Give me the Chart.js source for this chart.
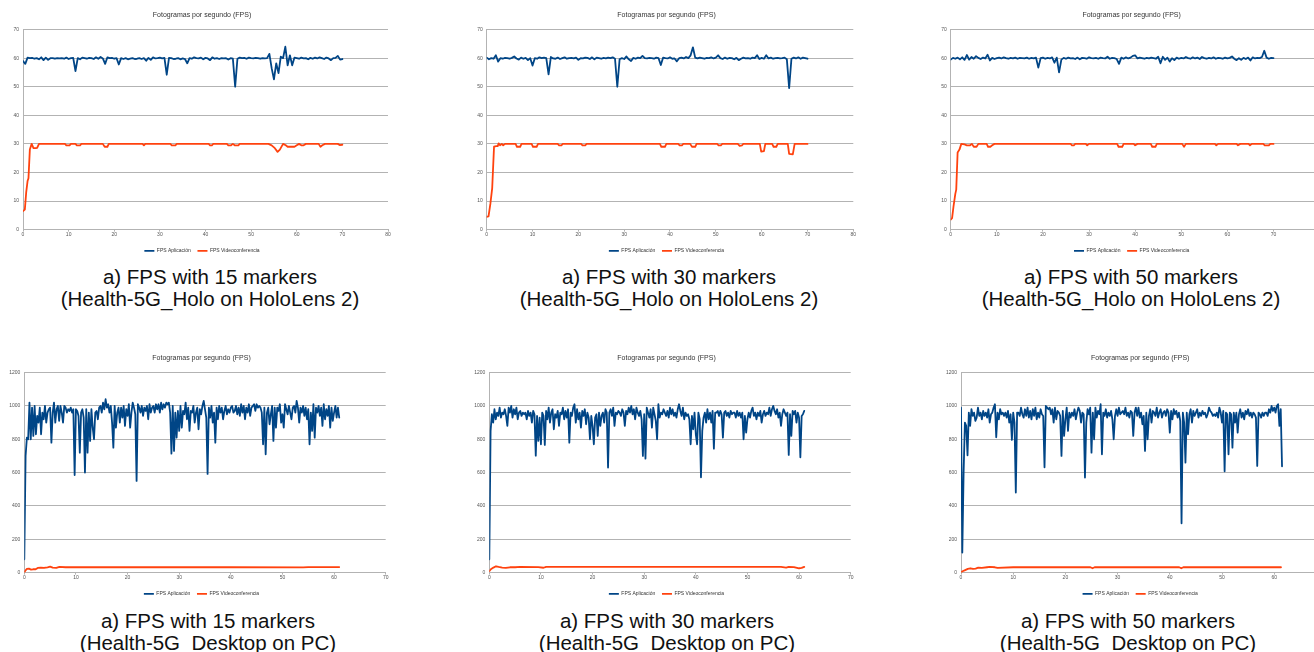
<!DOCTYPE html>
<html>
<head>
<meta charset="utf-8">
<script src="https://cdn.jsdelivr.net/npm/chart.js@4.4.1/dist/chart.umd.min.js"></script>
<style>
  html, body { margin: 0; padding: 0; background: #ffffff; }
  body { position: relative; width: 1314px; height: 652px; overflow: hidden; font-family: "Liberation Sans", Arial, sans-serif; }
  .panel { position: absolute; }
  .panel canvas { display: block; }
  .caption { position: absolute; width: 420px; text-align: center; font-size: 20.5px; line-height: 22px; color: #111111; white-space: nowrap; }
</style>
</head>
<body>
<div class="panel" id="holo15-panel"><canvas id="holo15-chart"></canvas></div>
<div class="panel" id="holo30-panel"><canvas id="holo30-chart"></canvas></div>
<div class="panel" id="holo50-panel"><canvas id="holo50-chart"></canvas></div>
<div class="panel" id="desk15-panel"><canvas id="desk15-chart"></canvas></div>
<div class="panel" id="desk30-panel"><canvas id="desk30-chart"></canvas></div>
<div class="panel" id="desk50-panel"><canvas id="desk50-chart"></canvas></div>

<div class="caption" style="left:0px;top:266px">a) FPS with 15 markers<br>(Health-5G_Holo on HoloLens 2)</div>
<div class="caption" style="left:459px;top:266px">a) FPS with 30 markers<br>(Health-5G_Holo on HoloLens 2)</div>
<div class="caption" style="left:921px;top:266px">a) FPS with 50 markers<br>(Health-5G_Holo on HoloLens 2)</div>
<div class="caption" style="left:-2px;top:610px">a) FPS with 15 markers<br>(Health-5G_Desktop on PC)</div>
<div class="caption" style="left:457px;top:610px">a) FPS with 30 markers<br>(Health-5G_Desktop on PC)</div>
<div class="caption" style="left:918px;top:610px">a) FPS with 50 markers<br>(Health-5G_Desktop on PC)</div>

<script>
const chartTitle = "Fotogramas por segundo (FPS)";
const seriesNames = ["FPS Aplicación", "FPS Videoconferencia"];

// HoloLens runs: x 0..80 s, y 0..70 fps; app samples every 0.5 s
const holoXMax = 80;
const holoYMax = 70;
const holoYStep = 10;
const holoSampleStep = 0.5;

// Desktop runs: x 0..70 s, y 0..1200 fps; app samples every 0.25 s
const deskXMax = 70;
const deskYMax = 1200;
const deskYStep = 200;
const deskSampleStep = 0.25;

const holo15App = [
  59, 58, 60.2, 60, 60.1, 59.8, 60, 59.6, 60.3, 59.3,
  60.2, 59.4, 60, 60, 59.8, 60, 59.9, 60, 59.8, 60.2,
  59.7, 60, 60.1, 55.5, 60, 59.6, 60.2, 60, 59.8, 60.1,
  60, 59.7, 60.3, 59.8, 60.4, 59.9, 58, 60.3, 60, 60.1,
  59.8, 60, 57.8, 60, 59.7, 60, 59.6, 59.8, 60, 59.7,
  59.8, 60, 59.7, 60, 59.1, 60.1, 59.4, 60.3, 59.9, 60,
  60.2, 59.9, 60.1, 54.2, 60.1, 60, 59.7, 59.8, 60, 59.6,
  59.9, 59.7, 58.2, 60, 59.8, 60.3, 60, 59.9, 60.2, 59.6,
  60.1, 59.9, 59.3, 60.3, 59.8, 60, 59.7, 60, 59.9, 60,
  59.5, 60, 59.8, 50, 59.8, 60.2, 60, 60.1, 59.8, 60.2,
  60, 59.9, 60.1, 60, 59.8, 60, 59.9, 60, 61.5, 56.5,
  52.6, 58.2, 54.8, 60.5, 60, 64, 57.5, 61, 57.5, 60.2,
  60, 59.8, 60.2, 59.9, 60, 59.6, 60.1, 59.8, 60.2, 59.9,
  60.3, 60, 59.7, 60.2, 59.9, 59.3, 60, 60.1, 60.8, 59.5,
  59.7
];

const holo15Video = [
  [0, 6.5], [0.4, 7], [0.7, 13], [1.0, 17], [1.2, 18], [1.5, 28], [1.9, 30], [2.3, 28.5], [2.8, 28.5],
  [3.1, 28.6], [3.5, 30], [9.2, 30], [9.5, 29.5], [10.2, 29.5], [10.5, 30], [11.5, 30], [11.8, 29.5],
  [12.5, 29.5], [12.8, 30], [17.5, 30], [17.9, 29], [18.5, 29], [18.8, 30], [26.2, 30], [26.5, 29.5],
  [26.8, 30], [32.3, 30], [32.6, 29.5], [33.4, 29.5], [33.7, 30], [40.7, 30], [41, 29.5], [41.4, 29.5],
  [41.7, 30], [44.7, 30], [45, 29.5], [45.6, 29.5], [46, 30], [46.4, 29.5], [47.2, 29.5], [47.5, 30],
  [53.8, 30], [54.5, 29.5], [55.2, 28.5], [55.8, 27.2], [56.3, 28], [57, 30], [57.6, 29.5], [58, 29],
  [59.5, 29], [60, 29.5], [60.5, 30], [61, 29.5], [61.5, 29.5], [62, 30], [64.8, 30], [65.2, 29],
  [65.6, 29.5], [66.2, 30], [69, 30], [69.4, 29.6], [70, 29.7]
];

const holo30App = [
  60.2, 59.6, 60, 59.8, 61, 58.8, 60, 59.8, 60.1, 60,
  59.8, 60.1, 60.6, 59.9, 59.5, 60.2, 59.8, 60.1, 59.3, 60,
  57.4, 60, 59.8, 60.3, 60, 60.2, 60, 54.3, 60.4, 59.9,
  59.8, 60.2, 59.7, 60, 60.3, 59.8, 60, 60.1, 59.9, 60.2,
  59.4, 60, 59.9, 60.2, 60.1, 59.7, 60.3, 59.6, 60.2, 60,
  59.8, 60.1, 59.9, 60.2, 60, 60.3, 59.8, 50, 59.6, 60,
  59.7, 60.6, 59.6, 59, 60.1, 59.8, 60.2, 60, 60.8, 60,
  59.9, 60.1, 60, 59.8, 60.2, 60, 57.6, 60.2, 60, 59.9,
  60.3, 59.8, 59.9, 58.9, 60, 60.2, 59.9, 60.4, 60, 61,
  63.8, 60.2, 59.9, 60.2, 60, 59.8, 60.1, 60, 60.3, 59.9,
  60.2, 61, 60, 59.7, 60.2, 59.8, 60.1, 60, 59.6, 60.1,
  59.3, 59.8, 60.2, 59.9, 60, 59.8, 60.2, 60, 61, 59.7,
  60.1, 59.8, 61, 59.9, 60.2, 59.8, 60, 60.1, 59.9, 60,
  60.2, 59.6, 49.5, 59.8, 60.2, 59.9, 60.3, 59.8, 60.2, 60,
  59.8
];

const holo30Video = [
  [0, 4.5], [0.4, 4.6], [0.8, 9], [1.2, 14.5], [1.6, 29], [2.1, 29.2], [2.4, 29.2], [2.6, 30.2],
  [2.9, 29.5], [3.3, 30], [3.6, 29.5], [4, 30], [6.3, 30], [6.6, 29], [7.3, 29], [7.6, 30], [9.8, 30],
  [10.1, 29], [10.9, 29], [11.2, 30], [15.5, 30], [15.8, 29.5], [16.3, 29.5], [16.6, 30], [20.6, 30],
  [20.9, 29.5], [21.5, 29.5], [21.8, 30], [37.8, 30], [38.1, 29], [38.9, 29], [39.2, 30], [41.8, 30],
  [42.1, 29.5], [42.6, 29.5], [42.9, 30], [44.4, 30], [44.8, 29], [45.5, 29], [45.8, 30], [50.3, 30],
  [50.6, 29.5], [51.1, 29.5], [51.4, 30], [54.8, 30], [55.2, 29.3], [55.7, 29.5], [56, 30], [59.6, 30],
  [59.9, 27.3], [60.5, 27.5], [60.8, 30], [62.3, 30], [62.6, 29], [63.2, 29], [63.5, 30], [65.7, 30],
  [66, 26.5], [66.8, 26.3], [67.2, 30], [70, 30]
];

const holo50App = [
  59.5, 60.1, 59.8, 60.2, 59.6, 60.3, 59.4, 61.1, 59.5, 60.4,
  59.8, 60.7, 60.1, 59.7, 60.2, 59.9, 61.2, 59.2, 60.1, 59.7,
  60, 60.2, 59.9, 60.3, 60, 59.8, 60.1, 59.9, 60.2, 59.8,
  60.1, 60, 59.9, 60.2, 59.8, 60.1, 59.9, 60.2, 56.7, 60,
  60.2, 59.8, 60.1, 59.9, 60.3, 58.4, 60.2, 55, 59.5, 60.1,
  59.8, 60.2, 59.9, 60, 59.7, 60.2, 59.6, 60.1, 60, 59.8,
  60.3, 60, 59.9, 60.1, 59.8, 60.2, 60, 59.9, 60.5, 59.8,
  60.1, 60, 59.7, 58, 60.2, 59.8, 60.3, 59.9, 60.2, 60.8,
  61, 59.9, 60.2, 60, 59.8, 60.1, 59.9, 60.2, 60, 59.8,
  60.5, 58.2, 60.5, 59.4, 60.2, 58.8, 60, 59.3, 60.2, 59.8,
  60.1, 59.9, 60.4, 60, 59.8, 60.3, 59.9, 60.2, 59.7, 60.4,
  60, 59.8, 60.1, 59.9, 60.3, 59.8, 60.1, 60, 59.8, 60.2,
  59.9, 60.1, 60.6, 59.8, 59.3, 60, 59.4, 60.1, 59.7, 60.2,
  59.2, 60.3, 59.9, 60.1, 60, 60.4, 62.6, 60.2, 59.8, 60.1,
  60
];

const holo50Video = [
  [0, 3.5], [0.3, 4], [0.6, 8], [1, 12.5], [1.2, 14], [1.5, 27], [1.9, 28], [2.3, 30], [3, 29.8],
  [3.5, 29.5], [4.2, 29.5], [4.6, 30], [5, 29], [5.6, 29], [6, 30], [7.8, 30], [8.1, 29], [8.6, 29],
  [9, 29.5], [9.5, 30], [26, 30], [26.3, 29.5], [26.7, 29.5], [27, 30], [29.3, 30], [29.6, 29.5],
  [30, 30], [36.1, 30], [36.4, 29], [37.2, 29], [37.5, 30], [39.7, 30], [40, 29.5], [40.5, 30],
  [43.4, 30], [43.7, 29], [44.4, 29], [44.7, 30], [50.2, 30], [50.6, 29], [51, 30], [57.3, 30],
  [57.6, 29.5], [58, 30], [62, 30], [62.3, 29.5], [62.8, 30], [64.6, 30], [64.9, 29.5], [65.3, 30],
  [67.8, 30], [68.1, 29.5], [69, 29.5], [69.3, 30], [70, 30]
];

const desk15App = [
  80, 700, 810, 800, 1020, 800, 990, 820, 1000, 830, 940, 900, 990, 830, 960, 920,
  1000, 900, 960, 980, 990, 780, 960, 1020, 900, 980, 1000, 910, 1000, 960, 900, 1000,
  990, 960, 980, 970, 990, 960, 980, 585, 980, 970, 940, 720, 960, 980, 930, 600,
  980, 720, 960, 790, 980, 870, 800, 960, 970, 920, 990, 1000, 960, 1020, 980, 1040,
  990, 1010, 960, 1000, 900, 750, 1000, 870, 960, 990, 900, 990, 930, 1000, 880, 980,
  940, 1010, 870, 960, 1020, 990, 950, 550, 1010, 990, 960, 1000, 940, 990, 970, 1000,
  920, 1010, 960, 990, 1000, 960, 1010, 980, 1010, 960, 1020, 980, 1010, 990, 1020, 1010,
  1020, 960, 714, 1000, 730, 960, 810, 970, 850, 1000, 870, 970, 950, 1020, 920, 990,
  850, 970, 960, 1000, 900, 960, 990, 860, 980, 950, 1000, 1030, 980, 930, 592, 990,
  930, 1000, 900, 960, 780, 990, 920, 1000, 960, 990, 920, 970, 1000, 950, 980, 960,
  990, 1000, 960, 970, 1000, 950, 990, 940, 1010, 960, 1000, 920, 990, 960, 1010, 940,
  990, 1000, 1010, 970, 1010, 990, 1000, 990, 960, 770, 990, 710, 960, 990, 890, 950,
  1000, 790, 990, 870, 990, 970, 1010, 900, 950, 870, 1010, 980, 950, 1000, 960, 920,
  990, 1000, 960, 1030, 990, 900, 990, 960, 1000, 940, 990, 920, 980, 770, 960, 850,
  1010, 810, 990, 960, 1000, 940, 990, 880, 1010, 920, 980, 940, 1000, 870, 990, 910,
  960, 1000, 930, 990, 930
];

const desk15Video = [
  [0, 0], [0.2, 12], [0.5, 22], [0.9, 24], [1.3, 18], [1.7, 20], [2.2, 20], [2.6, 28], [3.2, 30],
  [3.8, 28], [4.5, 32], [5.0, 36], [5.5, 30], [6.2, 28], [6.8, 34], [8, 32], [20, 32], [40, 32],
  [54, 31], [55, 33], [61, 33]
];

const desk30App = [
  80, 850, 950, 900, 980, 920, 960, 940, 990, 930, 960, 950, 980, 940, 880, 990,
  960, 1000, 930, 980, 950, 990, 920, 960, 970, 940, 960, 950, 960, 920, 970, 940,
  960, 900, 970, 950, 702, 940, 790, 930, 770, 960, 940, 766, 970, 920, 990, 900,
  960, 980, 860, 950, 930, 970, 880, 960, 950, 990, 920, 970, 930, 980, 780, 960,
  940, 990, 1010, 900, 980, 920, 960, 870, 970, 940, 980, 890, 960, 930, 800, 940,
  880, 770, 930, 950, 820, 960, 880, 940, 960, 900, 980, 960, 630, 960, 980, 940,
  990, 880, 960, 950, 970, 960, 940, 980, 960, 880, 970, 950, 990, 960, 1000, 950,
  980, 920, 990, 960, 940, 970, 920, 700, 950, 684, 990, 960, 930, 980, 870, 990,
  950, 910, 800, 1010, 930, 960, 950, 980, 960, 940, 970, 930, 990, 950, 980, 940,
  960, 930, 980, 1010, 970, 940, 990, 920, 960, 940, 950, 920, 770, 940, 860, 960,
  830, 770, 960, 920, 572, 850, 930, 960, 900, 980, 920, 960, 900, 970, 744, 960,
  960, 970, 940, 970, 950, 810, 960, 970, 940, 960, 930, 970, 950, 960, 960, 930,
  970, 940, 960, 930, 960, 800, 940, 840, 920, 960, 930, 970, 990, 940, 960, 920,
  960, 940, 970, 900, 950, 970, 940, 960, 950, 990, 940, 980, 1000, 970, 950, 980,
  930, 960, 880, 950, 980, 960, 940, 960, 706, 950, 820, 970, 950, 970, 900, 960,
  930, 692, 940, 950, 970
];

const desk30Video = [
  [0, 8], [0.3, 20], [0.8, 30], [1.3, 38], [1.8, 34], [2.5, 30], [3.2, 28], [4, 32], [5, 32],
  [6, 34], [9.5, 33], [10.5, 29], [11, 34], [20, 34], [40, 34], [56.5, 34], [57.5, 30], [58, 34],
  [59, 33], [60, 26], [60.5, 28], [61, 34]
];

const desk50App = [
  990, 120, 600, 900, 880, 704, 960, 880, 980, 940, 960, 910, 930, 990, 940, 960,
  920, 970, 940, 960, 930, 980, 900, 950, 960, 990, 1010, 812, 960, 920, 980, 950,
  960, 940, 960, 930, 970, 900, 950, 796, 960, 900, 480, 960, 960, 940, 990, 950,
  930, 980, 940, 990, 930, 970, 920, 980, 940, 990, 920, 960, 930, 980, 950, 940,
  632, 1000, 990, 980, 990, 950, 980, 900, 990, 920, 970, 960, 940, 700, 970, 820,
  920, 990, 850, 960, 930, 960, 940, 980, 920, 960, 990, 970, 900, 960, 950, 570,
  900, 980, 950, 990, 720, 960, 800, 990, 930, 970, 950, 1010, 710, 960, 940, 980,
  930, 960, 940, 970, 920, 800, 940, 980, 940, 990, 950, 960, 970, 950, 990, 940,
  960, 930, 970, 960, 820, 960, 990, 940, 990, 930, 960, 890, 940, 730, 960, 800,
  940, 980, 900, 970, 960, 940, 990, 930, 960, 980, 930, 960, 970, 940, 980, 960,
  840, 970, 920, 980, 950, 970, 930, 960, 910, 296, 960, 900, 660, 960, 830, 950,
  980, 900, 970, 940, 960, 980, 930, 960, 940, 970, 950, 960, 930, 950, 990, 970,
  960, 940, 950, 940, 960, 930, 990, 960, 900, 970, 608, 960, 950, 710, 960, 950,
  750, 960, 900, 960, 840, 950, 980, 930, 960, 920, 970, 950, 980, 940, 960, 930,
  960, 950, 930, 640, 960, 950, 930, 960, 940, 960, 960, 940, 980, 960, 1000, 970,
  990, 960, 1000, 1010, 880, 980, 638
];

const desk50Video = [
  [0, 0], [0.3, 8], [0.8, 15], [1.3, 22], [1.8, 26], [2.3, 22], [2.8, 24], [3.3, 30], [4, 28],
  [5, 32], [5.5, 34], [6.5, 32], [7, 28], [10, 32], [24.8, 32], [25.2, 26], [25.6, 32], [41.8, 32],
  [42.2, 26], [42.6, 32], [61.3, 32]
];

(function () {
  const palette = {
    app: "#004586",
    video: "#ff420e",
    grid: "#b3b3b3",
    tick: "#555555",
    title: "#333333",
  };
  const fontFamily = "'Liberation Sans', Arial, sans-serif";
  const yAxisWidth = 18;
  // empty right-hand axis: shifts the title/legend centre a little to the right of the plot centre
  const spacerWidth = 11;
  const canvasHeight = 264;

  function samplesToPoints(values, step) {
    return values.map(function (value, i) {
      return { x: i * step, y: value };
    });
  }

  function pairsToPoints(pairs) {
    return pairs.map(function (pair) {
      return { x: pair[0], y: pair[1] };
    });
  }

  function plainNumber(value) {
    return String(value);
  }

  function renderPanel(name, frame, appPoints, videoPoints, axes) {
    const panel = document.getElementById(name + "-panel");
    panel.style.left = frame.left + "px";
    panel.style.top = frame.top + "px";

    const canvas = document.getElementById(name + "-chart");
    canvas.width = frame.width;
    canvas.height = canvasHeight;
    canvas.style.width = frame.width + "px";
    canvas.style.height = canvasHeight + "px";

    const padLeft = frame.chartLeft - frame.left - yAxisWidth;
    const padRight = frame.left + frame.width - frame.chartRight - spacerWidth;

    return new Chart(canvas, {
      type: "line",
      data: {
        datasets: [
          {
            label: seriesNames[0],
            data: appPoints,
            borderColor: palette.app,
            backgroundColor: palette.app,
            borderWidth: 1.8,
          },
          {
            label: seriesNames[1],
            data: videoPoints,
            borderColor: palette.video,
            backgroundColor: palette.video,
            borderWidth: 1.8,
          },
        ],
      },
      options: {
        responsive: false,
        animation: false,
        devicePixelRatio: 1,
        layout: {
          padding: { left: padLeft, right: padRight, top: 0, bottom: 0.7 },
        },
        elements: {
          point: { radius: 0, hoverRadius: 0 },
          line: { tension: 0, borderJoinStyle: "round", borderCapStyle: "round" },
        },
        plugins: {
          title: {
            display: true,
            text: chartTitle,
            color: palette.title,
            font: { family: fontFamily, size: 7, weight: "normal" },
            padding: { top: 11, bottom: 10.2 },
          },
          legend: {
            position: "bottom",
            labels: {
              color: palette.title,
              font: { family: fontFamily, size: 5 },
              usePointStyle: true,
              pointStyle: "line",
              pointStyleWidth: 10,
              padding: 6.7,
            },
          },
          tooltip: { enabled: false },
        },
        scales: {
          x: {
            type: "linear",
            min: 0,
            max: axes.xMax,
            afterFit: function (scale) {
              scale.height = 12;
            },
            ticks: {
              stepSize: 10,
              color: palette.tick,
              font: { family: fontFamily, size: 5 },
              padding: 0,
              maxRotation: 0,
              callback: plainNumber,
            },
            grid: {
              drawOnChartArea: false,
              drawTicks: true,
              tickLength: 2,
              color: palette.grid,
            },
            border: { color: palette.grid },
          },
          y: {
            min: 0,
            max: axes.yMax,
            afterFit: function (scale) {
              scale.width = yAxisWidth;
            },
            ticks: {
              stepSize: axes.yStep,
              color: palette.tick,
              font: { family: fontFamily, size: 5 },
              padding: 4,
              callback: plainNumber,
            },
            grid: {
              drawTicks: false,
              color: palette.grid,
            },
            border: { color: palette.grid },
          },
          spacer: {
            type: "linear",
            position: "right",
            min: 0,
            max: 1,
            afterFit: function (scale) {
              scale.width = spacerWidth;
            },
            ticks: { display: false },
            grid: { display: false, drawTicks: false },
            border: { display: false },
          },
        },
      },
    });
  }

  const holoAxes = { xMax: holoXMax, yMax: holoYMax, yStep: holoYStep };
  const deskAxes = { xMax: deskXMax, yMax: deskYMax, yStep: deskYStep };

  renderPanel("holo15", { left: 0, top: 0, width: 400, chartLeft: 23, chartRight: 388 },
    samplesToPoints(holo15App, holoSampleStep), pairsToPoints(holo15Video), holoAxes);
  renderPanel("holo30", { left: 460, top: 0, width: 405, chartLeft: 486.7, chartRight: 853.3 },
    samplesToPoints(holo30App, holoSampleStep), pairsToPoints(holo30Video), holoAxes);
  renderPanel("holo50", { left: 920, top: 0, width: 420, chartLeft: 950.7, chartRight: 1319.6 },
    samplesToPoints(holo50App, holoSampleStep), pairsToPoints(holo50Video), holoAxes);

  renderPanel("desk15", { left: 0, top: 343, width: 400, chartLeft: 24.3, chartRight: 385.7 },
    samplesToPoints(desk15App, deskSampleStep), pairsToPoints(desk15Video), deskAxes);
  renderPanel("desk30", { left: 460, top: 343, width: 405, chartLeft: 489.3, chartRight: 850.7 },
    samplesToPoints(desk30App, deskSampleStep), pairsToPoints(desk30Video), deskAxes);
  renderPanel("desk50", { left: 920, top: 343, width: 420, chartLeft: 961, chartRight: 1326.4 },
    samplesToPoints(desk50App, deskSampleStep), pairsToPoints(desk50Video), deskAxes);
}());
</script>
</body>
</html>
